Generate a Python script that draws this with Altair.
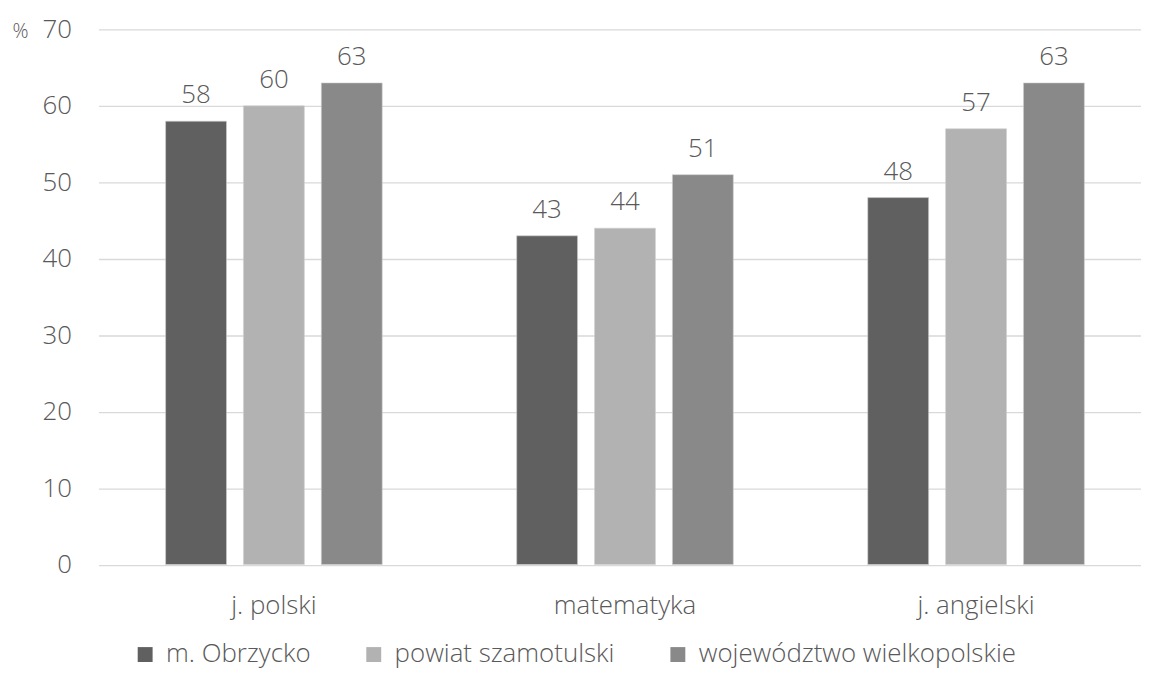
import altair as alt
import pandas as pd

categories = ["j. polski", "matematyka", "j. angielski"]
series = ["m. Obrzycko", "powiat szamotulski", "województwo wielkopolskie"]
values = {
    "m. Obrzycko": [58, 43, 48],
    "powiat szamotulski": [60, 44, 57],
    "województwo wielkopolskie": [63, 51, 63],
}
colors = ["#606060", "#b2b2b2", "#898989"]
y_ticks = [0, 10, 20, 30, 40, 50, 60, 70]

rows = []
for s in series:
    for c, v in zip(categories, values[s]):
        rows.append({"kategoria": c, "seria": s, "wartosc": v})
df = pd.DataFrame(rows)

FONT = "Open Sans"
TXT = "#595959"

x_enc = alt.X(
    "kategoria:N",
    sort=categories,
    scale=alt.Scale(paddingInner=0.383, paddingOuter=0.1763, align=0.5425),
    axis=alt.Axis(
        title=None, labelAngle=0, domain=False, ticks=False,
        labelFontSize=26, labelFont=FONT, labelFontWeight=300,
        labelColor=TXT, labelPadding=28, grid=False,
    ),
)
xo_enc = alt.XOffset(
    "seria:N", sort=series,
    scale=alt.Scale(paddingInner=0.218, paddingOuter=0),
)
y_enc = alt.Y(
    "wartosc:Q",
    scale=alt.Scale(domain=[0, 70], nice=False),
    axis=alt.Axis(
        values=y_ticks, domain=False, ticks=False,
        labelFontSize=26, labelFont=FONT, labelFontWeight=300,
        labelColor=TXT, labelPadding=27,
        gridColor="#d9d9d9", gridWidth=1.3,
        title="%", titleAngle=0, titleX=-87, titleY=2,
        titleAlign="left", titleBaseline="middle",
        titleFont=FONT, titleFontSize=20, titleFontWeight=300, titleColor=TXT,
    ),
)

bars = alt.Chart(df).mark_bar(stroke="#d0d0d0", strokeWidth=0.6).encode(
    x=x_enc,
    xOffset=xo_enc,
    y=y_enc,
    color=alt.Color(
        "seria:N", sort=series,
        scale=alt.Scale(domain=series, range=colors),
        legend=alt.Legend(
            title=None, orient="none", direction="horizontal", columns=3,
            legendX=34, legendY=616,
            symbolType="square", symbolSize=225, symbolStrokeWidth=0,
            symbolOpacity=1,
            labelFont=FONT, labelFontSize=26, labelFontWeight=300,
            labelColor=TXT, labelOffset=8, columnPadding=50, labelLimit=0,
        ),
    ),
)

labels = alt.Chart(df).mark_text(
    baseline="alphabetic", dy=-18, fontSize=26, font=FONT,
    fontWeight=300, color=TXT,
).encode(
    x=alt.X("kategoria:N", sort=categories),
    xOffset=alt.XOffset("seria:N", sort=series),
    y=alt.Y("wartosc:Q"),
    text=alt.Text("wartosc:Q"),
)

chart = (
    alt.layer(bars, labels)
    .properties(
        width=1049, height=538.5,
        padding={"left": 91, "top": 19.5, "right": 0, "bottom": 103},
        autosize=alt.AutoSizeParams(type="none"),
    )
    .configure_view(stroke=None)
)

chart.save("out.html", embed_options={"renderer": "svg", "actions": False})
